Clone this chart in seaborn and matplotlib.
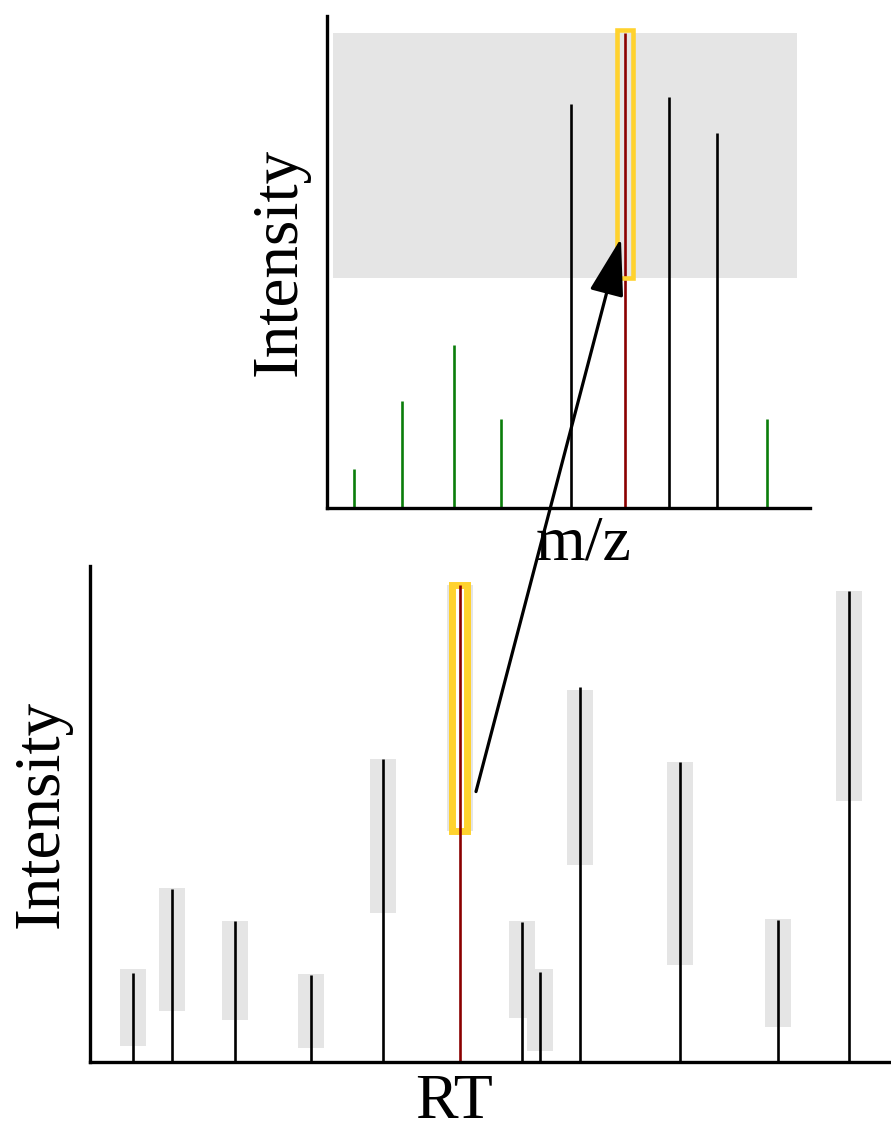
import matplotlib
matplotlib.use("Agg")
import matplotlib.pyplot as plt
import seaborn as sns
import pandas as pd

# top panel: mass spectrum
mz_pos = [2.7, 7.5, 12.7, 17.4, 24.4, 29.8, 34.2, 39.0, 44.0]
mz_int = [8.2, 22.5, 34.3, 18.7, 85.0, 100.0, 86.5, 79.0, 18.7]
mz_kind = ["noise", "noise", "noise", "noise", "peak", "selected", "peak", "peak", "noise"]
mz_band = (0.6, 47.0, 48.4, 100.0)   # x0, x1, y0, y1 of the intensity window

# bottom panel: chromatogram
rt_pos = [4.3, 8.2, 14.5, 22.1, 29.3, 37.0, 43.2, 45.0, 49.0, 59.0, 68.8, 75.9]
rt_int = [18.6, 36.2, 29.5, 18.2, 63.5, 100.0, 29.4, 18.8, 78.6, 62.9, 29.8, 98.7]
rt_lo = [3.4, 10.7, 8.9, 2.9, 31.3, 48.4, 9.2, 2.4, 41.4, 20.3, 7.4, 54.8]
rt_hi = [19.4, 36.4, 29.5, 18.5, 63.6, 100.0, 29.5, 19.4, 77.9, 62.9, 30.0, 98.7]
rt_sel = 5

top = pd.DataFrame({"mz": mz_pos, "intensity": mz_int, "kind": mz_kind})
bot = pd.DataFrame({"rt": rt_pos, "intensity": rt_int, "lo": rt_lo, "hi": rt_hi})

sns.set_theme(style="white")
plt.rcParams["font.family"] = ["Liberation Serif", "DejaVu Serif"]
plt.rcParams["text.color"] = "black"
plt.rcParams["axes.labelcolor"] = "black"

colors = {"noise": "#0a7d0a", "peak": "black", "selected": "#8b0000"}
gold = "#ffd22e"
band_gray = "#e5e5e5"

fig = plt.figure(figsize=(8.91, 11.23), dpi=100)
ax_bot = fig.add_axes([0.101, 0.0543, 0.899, 0.4417])
ax_top = fig.add_axes([0.367, 0.5476, 0.542, 0.4382])

# ---- top panel
ax_top.axhspan(mz_band[2], mz_band[3], xmin=mz_band[0] / 48.3, xmax=mz_band[1] / 48.3,
               color=band_gray, lw=0, zorder=0)
for kind, grp in top.groupby("kind"):
    ax_top.vlines(grp["mz"], 0, grp["intensity"], color=colors[kind], lw=1.9, zorder=2)
sel = top[top["kind"] == "selected"].iloc[0]
ax_top.bar(sel["mz"], mz_band[3] - mz_band[2] + 0.6, bottom=mz_band[2], width=1.65,
           facecolor="none", edgecolor=gold, lw=3.3, zorder=3)
ax_top.set_xlim(0, 48.3)
ax_top.set_ylim(0, 103.6)
ax_top.set_xlabel("m/z", fontsize=46)
ax_top.xaxis.set_label_coords(0.532, -0.016, transform=ax_top.transAxes)
ax_top.xaxis.label.set_va("top")
ax_top.set_ylabel("Intensity", fontsize=47)
ax_top.yaxis.set_label_coords(-0.035, 0.5)

# ---- bottom panel
w = 2.6
ax_bot.bar(bot["rt"], bot["hi"] - bot["lo"], bottom=bot["lo"], width=w,
           color=band_gray, lw=0, zorder=0)
ax_bot.bar(bot["rt"][rt_sel], bot["hi"][rt_sel] - bot["lo"][rt_sel], bottom=bot["lo"][rt_sel],
           width=1.5, facecolor="white", edgecolor=gold, lw=5.0, zorder=1)
others = bot.drop(index=rt_sel)
ax_bot.vlines(others["rt"], 0, others["intensity"], color="black", lw=1.9, zorder=2)
ax_bot.vlines(bot["rt"][rt_sel], 0, bot["intensity"][rt_sel], color=colors["selected"], lw=1.9, zorder=2)
ax_bot.set_xlim(0, 80.1)
ax_bot.set_ylim(0, 104)
ax_bot.set_xlabel("RT", fontsize=46)
ax_bot.xaxis.set_label_coords(0.454, -0.024, transform=ax_bot.transAxes)
ax_bot.xaxis.label.set_va("top")
ax_bot.set_ylabel("Intensity", fontsize=47)
ax_bot.yaxis.set_label_coords(-0.0225, 0.5)

for ax in (ax_top, ax_bot):
    sns.despine(ax=ax)
    ax.set_facecolor("none")
    ax.set_xticks([])
    ax.set_yticks([])
    for s in ("left", "bottom"):
        ax.spines[s].set_color("black")
        ax.spines[s].set_linewidth(2.4)

# arrow from the selected RT peak up into the spectrum
ax_top.annotate("", xy=(29.4, 56.8), xycoords=ax_top.transData,
                xytext=(38.6, 56.7), textcoords=ax_bot.transData,
                arrowprops=dict(arrowstyle="-|>,head_length=0.6,head_width=0.18",
                                color="black", lw=2.3,
                                mutation_scale=60, shrinkA=0, shrinkB=0),
                annotation_clip=False, zorder=10)

fig.savefig("out.png", dpi=100)
